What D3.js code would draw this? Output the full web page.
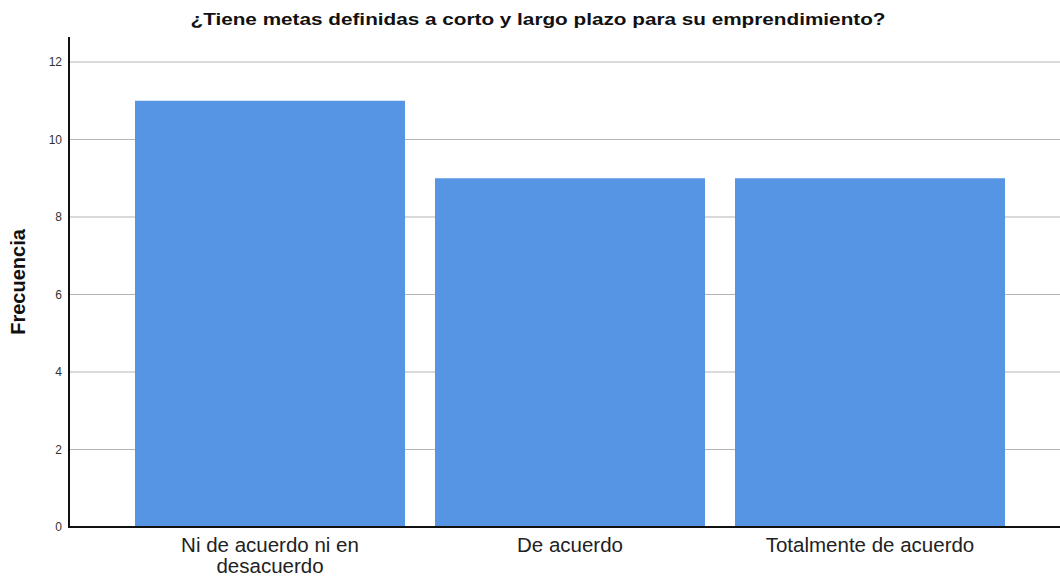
<html>
<head>
<script src="https://cdn.jsdelivr.net/npm/d3@7"></script>
<style>
    body {
        margin: 0;
        background: white;
        font-family: "Liberation Sans", Arial, sans-serif;
    }
</style>
</head>
<body>
<svg id="chart"></svg>
<script>
    // data
    const categories = ["Ni de acuerdo ni en desacuerdo", "De acuerdo", "Totalmente de acuerdo"]
    const categoryLines = [["Ni de acuerdo ni en", "desacuerdo"], ["De acuerdo"], ["Totalmente de acuerdo"]]
    const frequencies = [11, 9, 9]
    const yTicks = [0, 2, 4, 6, 8, 10, 12]
    const title = "¿Tiene metas definidas a corto y largo plazo para su emprendimiento?"
    const yLabel = "Frecuencia"

    let width = 1060, height = 577
    let svg = d3.select("#chart").attr("width", width).attr("height", height)

    let x0 = 69, x1 = 1060, yTop = 37, yBottom = 527

    let xScale = d3.scaleBand()
        .domain(categories)
        .range([120, 1020])
        .paddingInner(0.1)
        .paddingOuter(0.05)

    let yScale = d3.scaleLinear()
        .domain([0, 12])
        .range([yBottom, 62])

    // gridlines
    svg.append("g")
        .selectAll("line")
        .data(yTicks.filter(d => d > 0))
        .enter().append("line")
        .attr("x1", x0).attr("x2", x1)
        .attr("y1", d => yScale(d)).attr("y2", d => yScale(d))
        .attr("stroke", "#b4b4b4")
        .attr("stroke-width", 1.2)

    // bars
    svg.append("g")
        .selectAll("rect")
        .data(frequencies)
        .enter().append("rect")
        .attr("x", (d, i) => xScale(categories[i]))
        .attr("width", xScale.bandwidth())
        .attr("y", d => yScale(d))
        .attr("height", d => yBottom - yScale(d))
        .attr("fill", "#5595e3")

    // y axis
    let axisY = d3.axisLeft(yScale).tickValues(yTicks).tickSize(0).tickPadding(7)
    let gy = svg.append("g")
        .attr("transform", `translate(${x0},0)`)
        .call(axisY)
    gy.select(".domain").remove()
    gy.selectAll("text")
        .attr("font-family", "'Liberation Sans', Arial, sans-serif")
        .attr("font-size", 12)
        .attr("fill", "#333")
    svg.append("line")
        .attr("x1", x0).attr("x2", x0)
        .attr("y1", yTop).attr("y2", yBottom + 1)
        .attr("stroke", "#111").attr("stroke-width", 2)

    // x axis baseline
    svg.append("line")
        .attr("x1", x0).attr("x2", x1)
        .attr("y1", yBottom).attr("y2", yBottom)
        .attr("stroke", "#111").attr("stroke-width", 2)

    // category labels
    let axisX = d3.axisBottom(xScale).tickSize(0).tickFormat("")
    svg.append("g")
        .attr("transform", `translate(0,${yBottom})`)
        .call(axisX)
        .select(".domain").remove()

    svg.append("g")
        .selectAll("text")
        .data(categories)
        .enter().append("text")
        .attr("x", d => xScale(d) + xScale.bandwidth() / 2)
        .attr("y", 552)
        .attr("text-anchor", "middle")
        .attr("font-size", 20.5)
        .attr("fill", "#222")
        .each(function(d, i) {
            let lines = categoryLines[i]
            d3.select(this).selectAll("tspan")
                .data(lines)
                .enter().append("tspan")
                .attr("x", xScale(d) + xScale.bandwidth() / 2)
                .attr("dy", (l, j) => j === 0 ? 0 : 21)
                .text(l => l)
        })

    // title
    svg.append("text")
        .attr("x", 538)
        .attr("y", 25)
        .attr("text-anchor", "middle")
        .attr("font-size", 17)
        .attr("font-weight", "bold")
        .attr("fill", "#111")
        .attr("textLength", 695)
        .attr("lengthAdjust", "spacingAndGlyphs")
        .text(title)

    // y label
    svg.append("text")
        .attr("transform", "translate(25,282) rotate(-90)")
        .attr("text-anchor", "middle")
        .attr("font-size", 20)
        .attr("font-weight", "bold")
        .attr("fill", "#111")
        .text(yLabel)
</script>
</body>
</html>
